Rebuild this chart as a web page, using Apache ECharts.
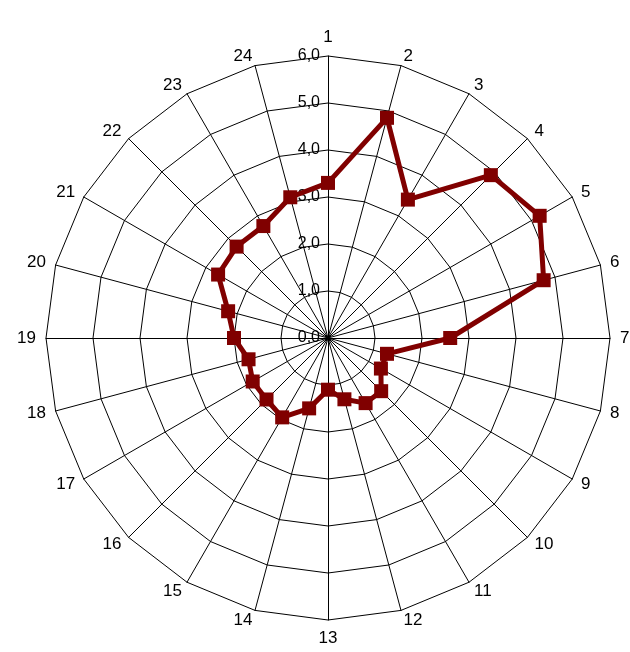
<!DOCTYPE html>
<html><head><meta charset="utf-8">
<script src="https://cdn.jsdelivr.net/npm/echarts@6/dist/echarts.min.js"></script>
<style>html,body{margin:0;background:#fff}#c{width:630px;height:652px}</style>
</head><body><div id="c"></div>
<script>
const categories = ['1','2','3','4','5','6','7','8','9','10','11','12','13','14','15','16','17','18','19','20','21','22','23','24'];
const values = [3.3,4.85,3.4,4.9,5.2,4.75,2.6,1.3,1.3,1.6,1.6,1.35,1.1,1.55,1.95,1.85,1.85,1.75,2.0,2.2,2.7,2.75,2.75,3.1];
const tickMax = 6;

// ECharts radar runs counter-clockwise: keep item 1 at top, reverse the rest
const order = [0].concat(categories.map((c, i) => i).slice(1).reverse());

const chart = echarts.init(document.getElementById('c'));
chart.setOption({
  animation: false,
  radar: {
    center: [328, 338], radius: 282, shape: 'polygon', splitNumber: 6,
    startAngle: 90,
    indicator: order.map(i => ({ name: categories[i], min: 0, max: tickMax })),
    axisName: { color: '#000', fontSize: 17, fontFamily: 'Liberation Sans, Arial' },
    nameGap: 10,
    axisLine: { lineStyle: { color: '#000', width: 1 } },
    splitLine: { lineStyle: { color: '#000', width: 1 } },
    splitArea: { show: false }
  },
  polar: { center: [328, 338], radius: 282 },
  angleAxis: { show: false, startAngle: 90 },
  radiusAxis: {
    min: 0, max: tickMax, interval: 1,
    axisLine: { show: false }, axisTick: { show: false }, splitLine: { show: false },
    axisLabel: { color: '#000', fontSize: 16, fontFamily: 'Liberation Sans, Arial', margin: 8,
      formatter: v => v.toFixed(1).replace('.', ',') }
  },
  series: [{
    type: 'radar', z: 5,
    symbol: 'rect', symbolSize: 14,
    lineStyle: { color: '#800000', width: 5 },
    itemStyle: { color: '#800000' },
    data: [{ value: order.map(i => values[i]) }]
  }]
});
</script></body></html>
